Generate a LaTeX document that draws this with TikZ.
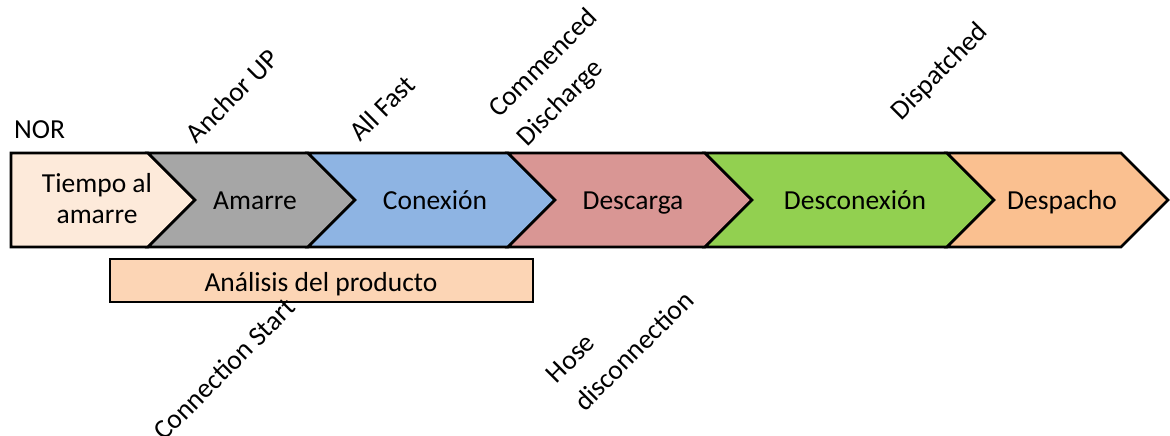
\documentclass[tikz,border=0pt]{standalone}
\usepackage{fontspec}
\setmainfont{Carlito}
\usepackage{tikz}
\usetikzlibrary{positioning}
\definecolor{tiempocol}{HTML}{FDEADA}
\definecolor{amarrecol}{HTML}{A6A6A6}
\definecolor{conexcol}{HTML}{8EB4E3}
\definecolor{descarcol}{HTML}{D99694}
\definecolor{desconcol}{HTML}{92D050}
\definecolor{despacol}{HTML}{FAC090}
\definecolor{analcol}{HTML}{FCD5B5}

\begin{document}
\begin{tikzpicture}[x=1pt, y=-1pt, line join=miter,
    stage/.style={draw=black, line width=2.6pt},
    stagetext/.style={font=\fontsize{27.5}{31}\selectfont, align=center, inner sep=0pt},
    stagename/.style={stagetext, anchor=base},
    event/.style={font=\fontsize{27.5}{40}\selectfont, align=left, rotate=45, inner sep=0pt}]
    \useasboundingbox (0,0) rectangle (1170,436);

    % First stage, flat left end
    \draw[stage, fill=tiempocol] (11,153) -- (148,153) -- (195,200) -- (148,247) -- (11,247) -- cycle;
    % Remaining chevrons: left, right, colour
    \foreach \l/\r/\c in {148/308/amarrecol, 308/508/conexcol, 508/705/descarcol, 705/947/desconcol, 947/1121/despacol}
        \draw[stage, fill=\c] (\l,153) -- (\r,153) -- (\r+47,200) -- (\r,247) -- (\l,247) -- (\l+47,200) -- cycle;

    % Stage names
    \node[stagetext] (tiempo) at (97,199) {Tiempo al\\amarre};
    \node[stagename] (amarre) at (255,209) {Amarre};
    \node[stagename] (conexion) at (435,209) {Conexión};
    \node[stagename] (descarga) at (633,209) {Descarga};
    \node[stagename] (desconexion) at (855,209) {Desconexión};
    \node[stagename] (despacho) at (1062,209) {Despacho};

    % Product analysis bar
    \draw[draw=black, line width=2pt, fill=analcol] (110,259) rectangle (533,302);
    \node[stagename] (analisis) at (321,291) {Análisis del producto};

    % Events
    \node[stagetext, anchor=base west] (nor) at (14,138) {NOR};
    \node[event] (anchorup) at (232,96) {Anchor UP};
    \node[event] (allfast) at (382,108) {All Fast};
    \node[event] (commenced) at (558,78) {Commenced\\Discharge};
    \node[event] (dispatched) at (940,72) {Dispatched};
    \node[event] (connstart) at (224,369) {Connection Start};
    \node[event] (hose) at (620,337) {Hose\\disconnection};
\end{tikzpicture}
\end{document}
